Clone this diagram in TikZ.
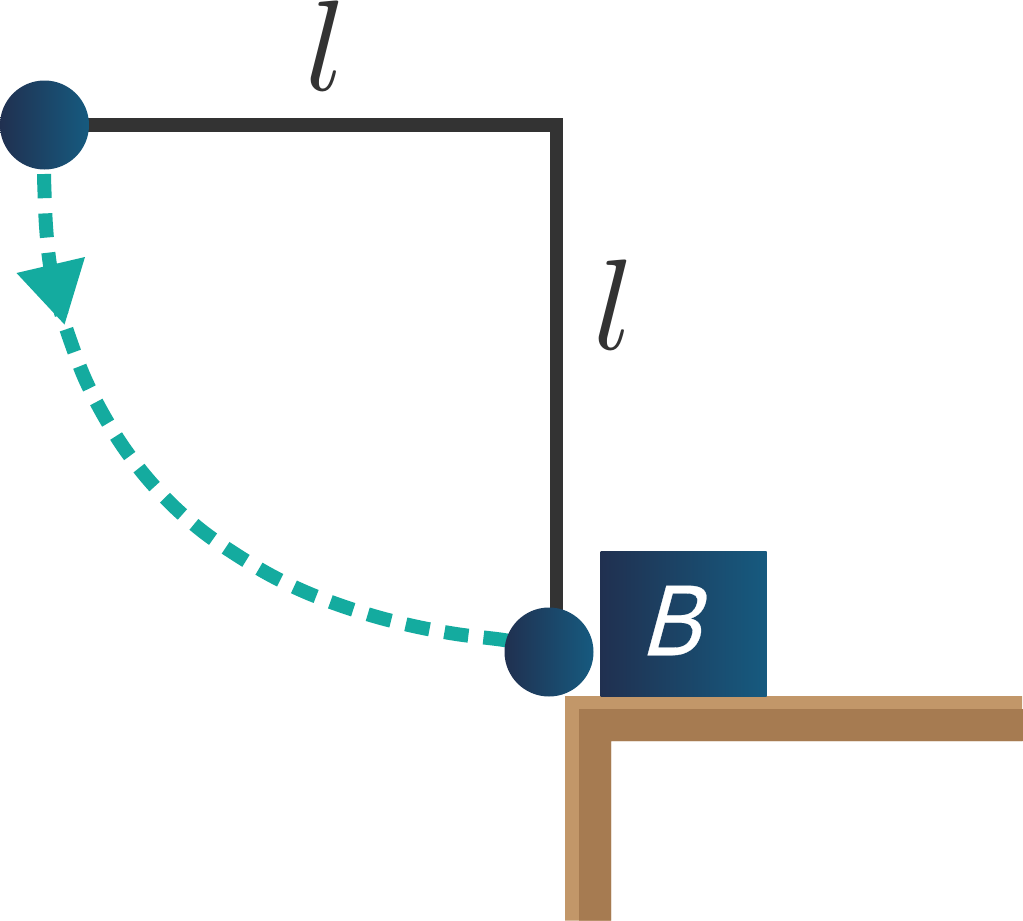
\documentclass[tikz,border=0pt]{standalone}
\usepackage{fontspec}
\newfontfamily\blockfont[FakeSlant=0.27,FakeStretch=0.88,FakeBold=0.3]{Liberation Sans}
\usetikzlibrary{calc,backgrounds}
\definecolor{ropegray}{HTML}{333333}
\definecolor{teal1}{HTML}{14AB9F}
\definecolor{navyL}{HTML}{203050}
\definecolor{navyR}{HTML}{165A7F}
\definecolor{woodL}{HTML}{C29769}
\definecolor{woodD}{HTML}{A67B51}
\tikzset{
  ball/.style={circle,inner sep=0pt,minimum size=89pt,left color=navyL,right color=navyR,draw=none},
  blockbox/.style={rectangle,inner sep=0pt,minimum width=166pt,minimum height=145pt,left color=navyL,right color=navyR,draw=none},
  blocklabel/.style={inner sep=0pt,text=white,font=\blockfont\fontsize{101}{101}\selectfont},
  rope/.style={draw=ropegray,line width=13.5pt},
  swing/.style={draw=teal1,line width=14pt,dash pattern=on 24.2pt off 15.2pt},
  len/.style={scale=12.9,inner sep=0pt,text=ropegray},
}
\begin{document}
\begin{tikzpicture}[x=1pt,y=-1pt]
\useasboundingbox (0,0) rectangle (1023,921);
% table
\fill[woodL] (565,696) -- (1022,696) -- (1022,741) -- (611,741) -- (611,920.5) -- (565,920.5) -- cycle;
\fill[woodD] (579,709) -- (1023,709) -- (1023,741) -- (611,741) -- (611,920.5) -- (579,920.5) -- cycle;
% nodes
\node[ball] (ballA) at (44.5,125) {};
\node[ball] (ballB) at (549,652) {};
\node[blockbox] (blockB) at (683.5,623.5) {};
\node[blocklabel] (labelB) at (670,620.5) {B};
\node[len] (lenTop) at (326,46) {$l$};
\node[len] (lenRight) at (614,304.5) {$l$};
\coordinate (swingStart) at (44,174);
\coordinate (swingEnd) at (510,641);
\begin{pgfonlayer}{background}
\fill[white] (0,0) rectangle (1023,921);
\draw[rope] (ballA.center) -| ($(ballB.center)+(7.5,0)$);
\draw[swing] plot[smooth,tension=0.55] coordinates {(swingStart) (44.3,186) (46,226) (50,265) (58.5,304) (70.7,341.7) (84.7,378.3) (102.7,413.7) (123.3,447) (147.3,478.3) (174.3,507) (204.3,532.7) (236.7,555) (270.7,575.3) (306,592.3) (343,606.3) (380.7,618) (419.3,627.3) (458,634.3) (496.7,639) (swingEnd)};
\end{pgfonlayer}
\fill[teal1] (16.5,273) -- (85,257) -- (64.5,324.5) -- cycle;
\end{tikzpicture}
\end{document}
